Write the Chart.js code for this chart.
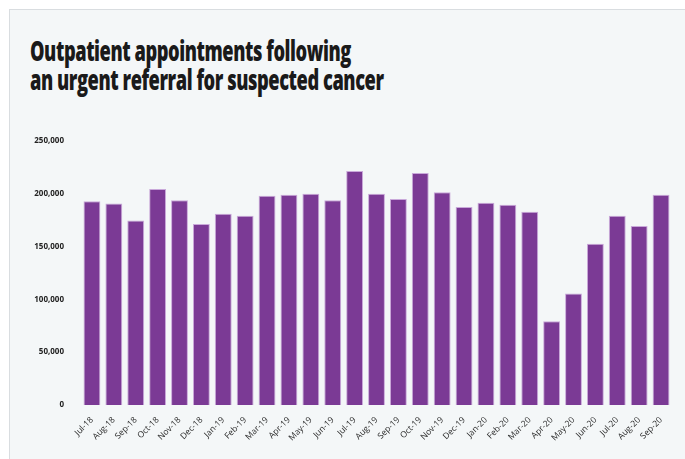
<!DOCTYPE html>
<html>
<head>
<meta charset="utf-8">
<script src="https://cdn.jsdelivr.net/npm/chart.js@4.4.1/dist/chart.umd.min.js"></script>
<style>
  html, body { margin: 0; padding: 0; background: #fff; }
  #wrap { position: relative; width: 685px; height: 459px; overflow: hidden; }
  #frame {
    position: absolute; left: 9px; top: 9px; width: 700px; height: 470px;
    background: #f4f7f8; border: 1.5px solid #d9dde0; box-sizing: border-box;
  }
  #title {
    position: absolute; left: 30px; top: 35px; margin: 0; white-space: nowrap;
    font-family: "Open Sans", sans-serif;
    font-weight: 800; font-size: 29px; line-height: 29px; color: #1a1a1a;
    letter-spacing: -0.7px;
    transform: scaleX(0.63); transform-origin: left top;
  }
  #c { position: absolute; left: 0; top: 0; }
</style>
</head>
<body>
<div id="wrap">
  <div id="frame"></div>
  <h1 id="title">Outpatient appointments following<br>an urgent referral for suspected cancer</h1>
  <canvas id="c" width="685" height="459"></canvas>
</div>
<script>
// Meses (jul 2018 – sep 2020) y citas
const months = [
  'Jul-18', 'Aug-18', 'Sep-18', 'Oct-18', 'Nov-18', 'Dec-18', 'Jan-19', 'Feb-19', 'Mar-19',
  'Apr-19', 'May-19', 'Jun-19', 'Jul-19', 'Aug-19', 'Sep-19', 'Oct-19', 'Nov-19', 'Dec-19',
  'Jan-20', 'Feb-20', 'Mar-20', 'Apr-20', 'May-20', 'Jun-20', 'Jul-20', 'Aug-20', 'Sep-20',
];
const appointments = [
  192900, 190700, 174600, 204600, 193800, 171500, 181200, 179100, 198200,
  199200, 200100, 193800, 221500, 200100, 195100, 219600, 201400, 187500,
  191600, 189700, 183100, 79300, 105700, 152600, 179100, 169600, 199200,
];
const yTicks = [0, 50000, 100000, 150000, 200000, 250000];

new Chart(document.getElementById('c'), {
  type: 'bar',
  data: {
    labels: months,
    datasets: [{
      data: appointments,
      backgroundColor: '#7b3a95',
      borderColor: 'rgba(196,160,214,0.9)',
      borderWidth: 1,
      categoryPercentage: 0.77,
      barPercentage: 1,
    }],
  },
  options: {
    responsive: false,
    animation: false,
    devicePixelRatio: 1,
    layout: { padding: { left: 0, right: 13, top: 141, bottom: 8 } },
    plugins: { legend: { display: false }, tooltip: { enabled: false } },
    scales: {
      x: {
        grid: { display: false },
        border: { display: false },
        ticks: {
          autoSkip: false, minRotation: 45, maxRotation: 45, padding: 2,
          color: '#2a2a2a', font: { family: '"Open Sans", sans-serif', size: 8.5 },
        },
        afterFit: (s) => { s.height = 46; },
      },
      y: {
        min: 0, max: 250000,
        grid: { display: false },
        border: { display: false },
        afterBuildTicks: (s) => { s.ticks = yTicks.map((v) => ({ value: v })); },
        ticks: {
          padding: 9, color: '#222',
          font: { family: '"Open Sans", sans-serif', size: 8, weight: 'bold' },
          callback: (v) => v.toLocaleString('en-GB'),
        },
        afterFit: (s) => { s.width = 81; },
      },
    },
  },
});
</script>
</body>
</html>
